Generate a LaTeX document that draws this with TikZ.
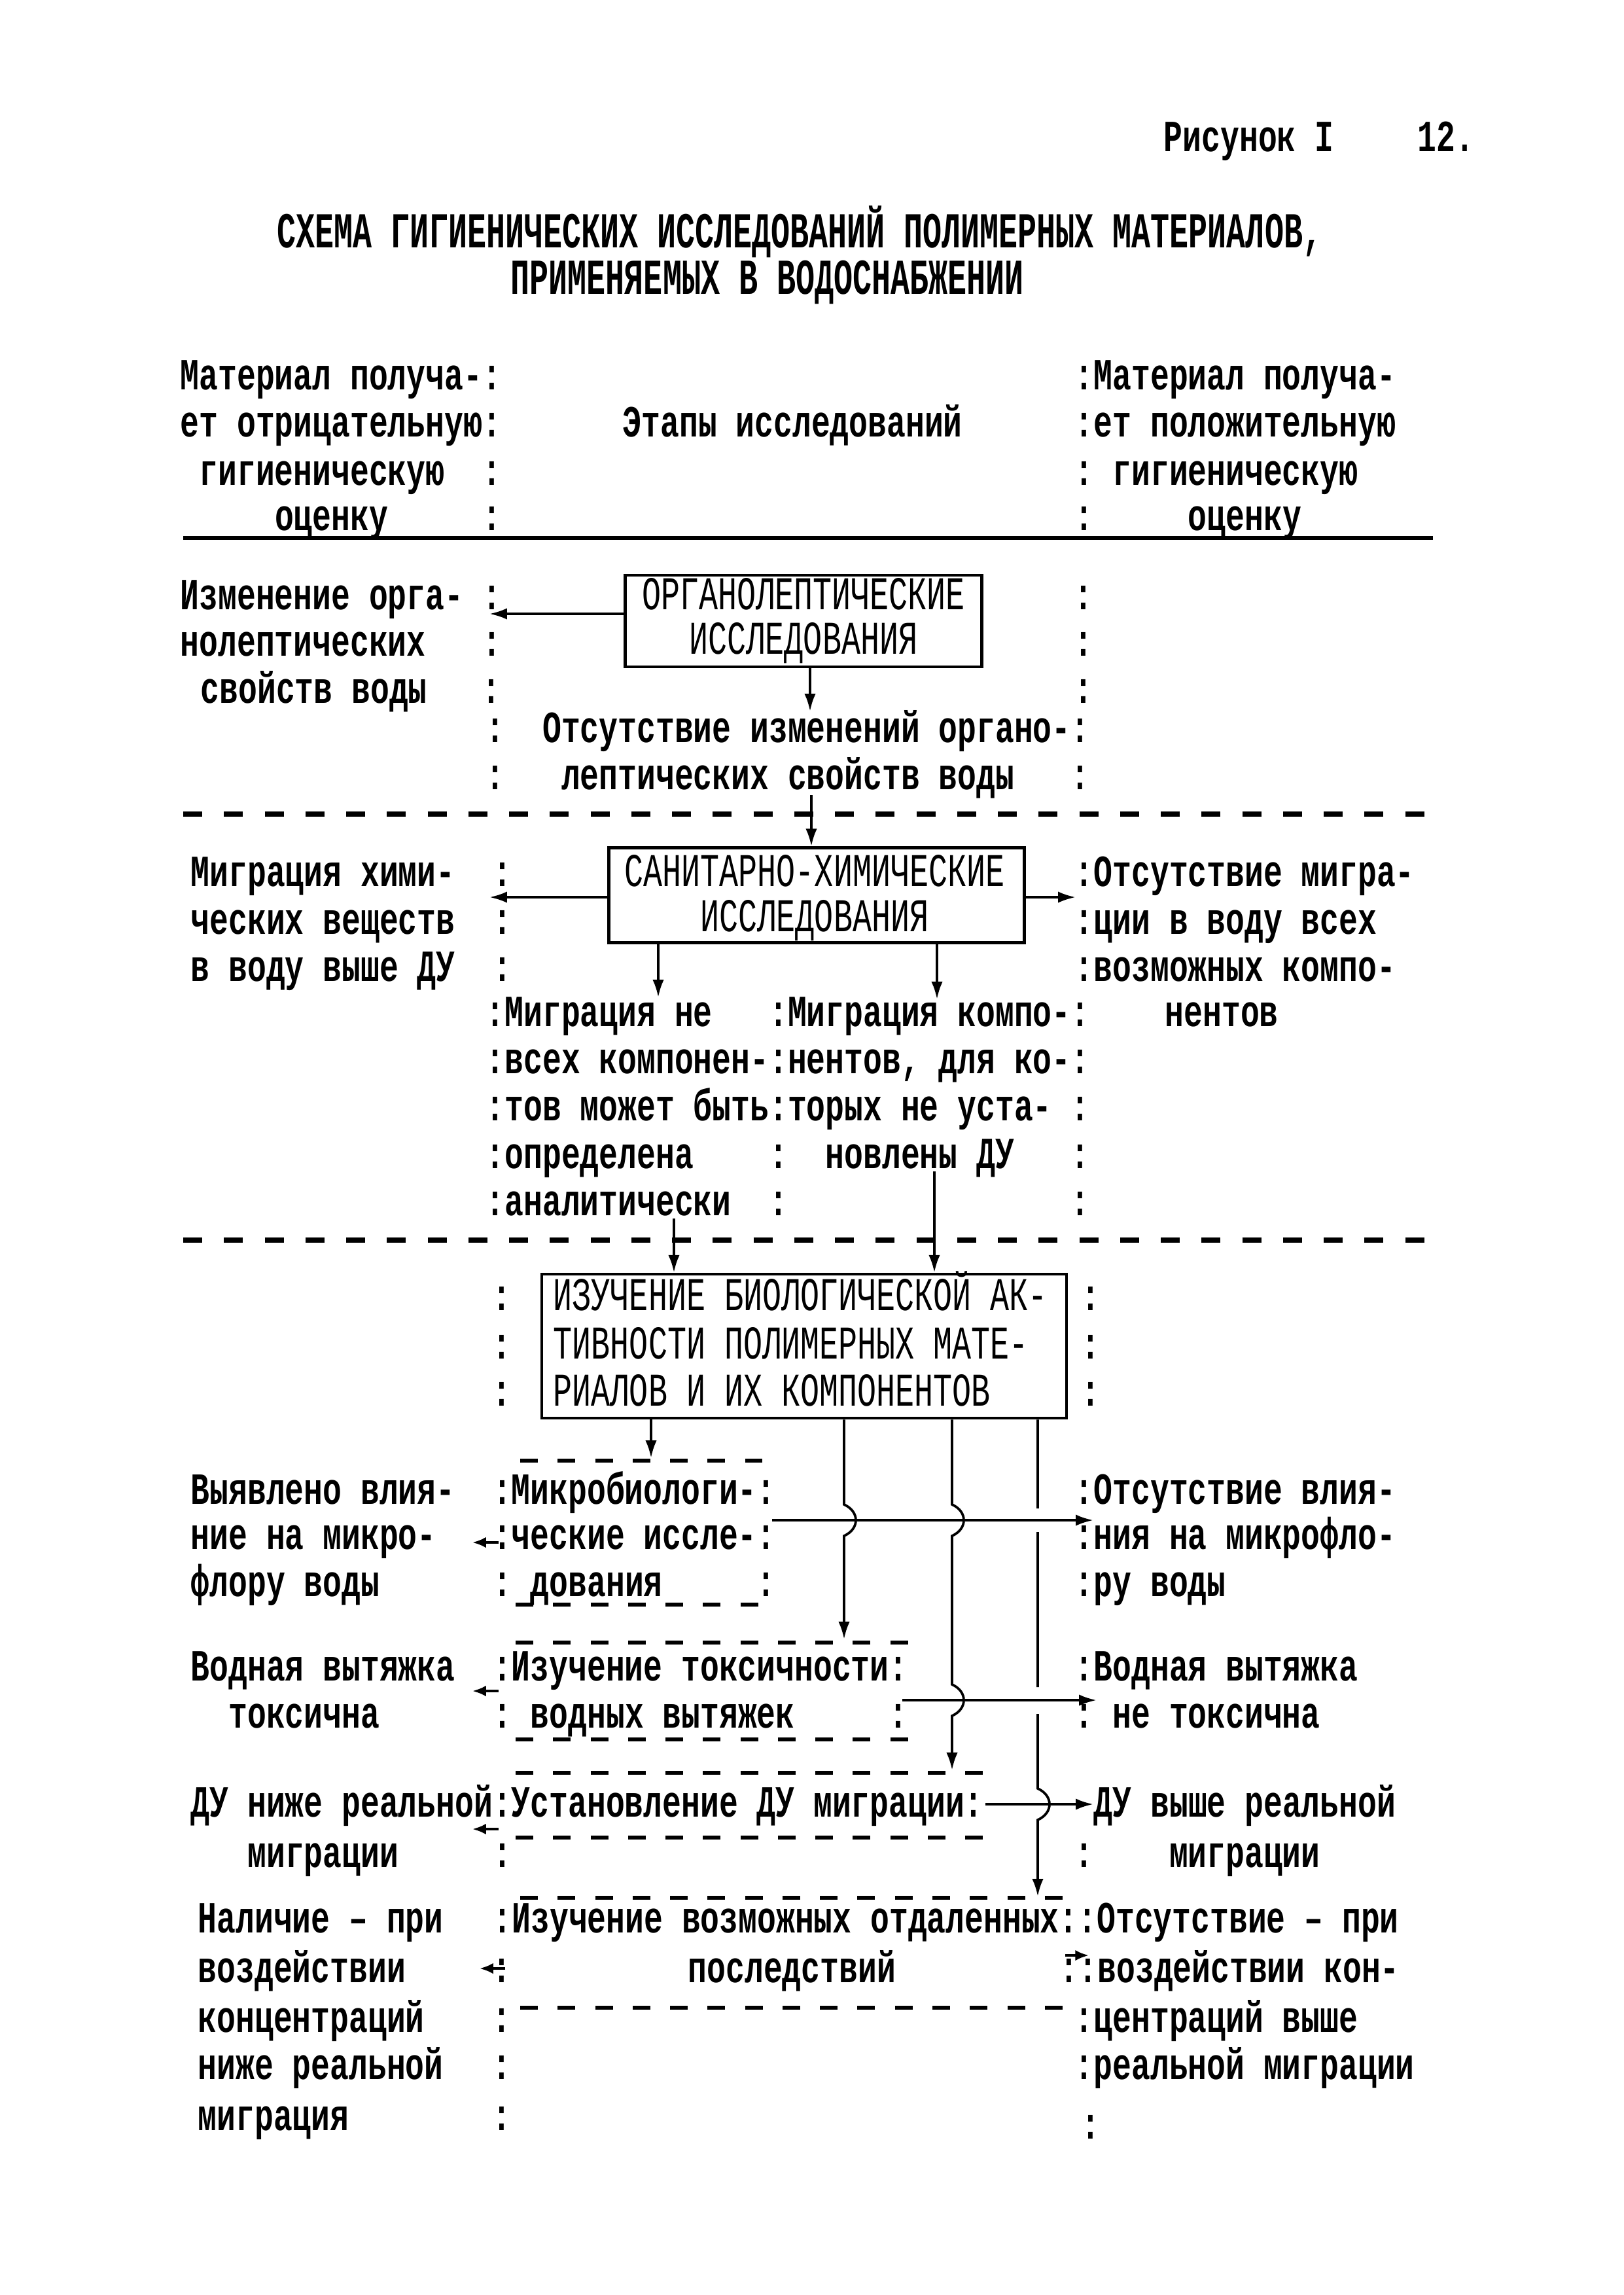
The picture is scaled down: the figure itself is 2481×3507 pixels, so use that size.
\documentclass[tikz,border=0pt]{standalone}
\usepackage{fontspec}
\newfontfamily\twfam[FakeStretch=0.706]{Liberation Mono}
\newfontfamily\ttlfam[FakeStretch=0.63]{Liberation Mono}
\newfontfamily\boxfam[FakeStretch=0.674]{Liberation Mono}
\usetikzlibrary{arrows.meta}
\newcommand\bodyfnt{\twfam\bfseries\fontsize{16.4}{17}\selectfont}
\newcommand\titlefnt{\ttlfam\bfseries\fontsize{18.5}{20}\selectfont}
\newcommand\boxfnt{\boxfam\fontsize{17.3}{18}\selectfont}
\newcommand\putT[4]{\node[txt] (#1) at (#2,#3) {#4};}
\newcommand\putC[3]{\node[col] (#1) at (#2,#3) {:};}
\begin{document}
\begin{tikzpicture}[x=0.008465cm,y=-0.008465cm,
 txt/.style={font=\bodyfnt,inner sep=0pt,anchor=base west},
 col/.style={font=\bodyfnt,inner sep=0pt,anchor=base},
 ttl/.style={font=\titlefnt,inner sep=0pt,anchor=base west},
 box/.style={draw,line width=1.1pt,inner sep=0pt},
 boxtxt/.style={font=\boxfnt,inner sep=0pt,anchor=base},
 boxtxtl/.style={font=\boxfnt,inner sep=0pt,anchor=base west},
 arr/.style={line width=0.9pt,-{Latex[length=6.5pt,width=4.2pt]}},
 sarr/.style={line width=0.9pt,-{Latex[length=5pt,width=4pt]}},
 sepdash/.style={line width=1.9pt,dash pattern=on 7pt off 8pt},
 shortdash/.style={line width=1.4pt,dash pattern=on 6.5pt off 7.3pt},
 rulebar/.style={line width=1.4pt}]
\useasboundingbox[fill=white] (0,0) rectangle (2481,3507);

% header
\putT{hd1}{1778}{231}{Рисунок I}
\putT{hd2}{2166}{231}{12.}
\node[ttl] (tl1) at (423,378) {СХЕМА ГИГИЕНИЧЕСКИХ ИССЛЕДОВАНИЙ ПОЛИМЕРНЫХ МАТЕРИАЛОВ,};
\node[ttl] (tl2) at (780,449) {ПРИМЕНЯЕМЫХ В ВОДОСНАБЖЕНИИ};

% column heads
\putT{r1a}{275}{595}{Материал получа-:}
\putT{r1b}{1642}{595}{:Материал получа-}
\putT{r2a}{275}{667}{ет отрицательную:}
\putT{r2c}{951}{667}{Этапы исследований}
\putT{r2b}{1642}{667}{:ет положительную}
\putT{r3a}{275}{741}{~гигиеническую~~:}
\putT{r3b}{1642}{741}{:~гигиеническую}
\putT{r4a}{275}{810}{~~~~~оценку~~~~~:}
\putT{r4b}{1642}{810}{:~~~~~оценку}
\draw[rulebar] (280,822) -- (2190,822);

% section 1
\node[box,minimum width=131.3pt,minimum height=33.7pt] (b1) at (1228,949) {};
\node[boxtxt] (b1l1) at (1228,931) {ОРГАНОЛЕПТИЧЕСКИЕ};
\node[boxtxt] (b1l2) at (1228,999) {ИССЛЕДОВАНИЯ};
\putT{s1a}{275}{931}{Изменение орга-~:}
\putT{s1b}{275}{1002}{нолептических~~~:}
\putT{s1c}{306}{1074}{свойств воды}
\putC{k0}{751}{1074}
\putC{k1}{1656}{931}
\putC{k2}{1656}{1002}
\putC{k3}{1656}{1074}
\putT{s1d}{742}{1134}{:~~Отсутствие изменений органо-:}
\putT{s1e}{742}{1206}{:~~~лептических свойств воды~~~:}
\coordinate (c1) at (748,938);
\draw[arr] (b1.west |- c1) -- (c1);
\coordinate (c2) at (1238,1087);
\draw[arr] (b1.south -| c2) -- (c2);
\draw[sepdash] (280,1244) -- (2190,1244);

% section 2
\node[box,minimum width=152.9pt,minimum height=34.9pt] (b2) at (1248,1368) {};
\node[boxtxt] (b2l1) at (1245,1354) {САНИТАРНО-ХИМИЧЕСКИЕ};
\node[boxtxt] (b2l2) at (1245,1423) {ИССЛЕДОВАНИЯ};
\coordinate (c3) at (1240,1215);
\draw[arr] (c3) -- (c3 |- b2.north);
\putT{s2a}{291}{1354}{Миграция хими-~~:}
\putT{s2b}{291}{1427}{ческих веществ~~:}
\putT{s2c}{291}{1499}{в воду выше ДУ~~:}
\putT{s2ar}{1642}{1354}{:Отсутствие мигра-}
\putT{s2br}{1642}{1427}{:ции в воду всех}
\putT{s2cr}{1642}{1499}{:возможных компо-}
\coordinate (c4) at (748,1371);
\coordinate (c5) at (1644,1371);
\draw[arr] (b2.west |- c4) -- (c4);
\draw[arr] (b2.east |- c5) -- (c5);
\putT{s2d}{742}{1568}{:Миграция не~~~:Миграция компо-:~~~~нентов}
\putT{s2e}{742}{1640}{:всех компонен-:нентов, для ко-:}
\putT{s2f}{742}{1712}{:тов может быть:торых не уста-~:}
\putT{s2g}{742}{1785}{:определена~~~~:~~новлены ДУ~~~:}
\putT{s2h}{742}{1857}{:аналитически~~:~~~~~~~~~~~~~~~:}
\coordinate (c6) at (1006,1524);
\coordinate (c7) at (1432,1527);
\draw[arr] (b2.south -| c6) -- (c6);
\draw[arr] (b2.south -| c7) -- (c7);
\draw[sepdash] (280,1895) -- (2190,1895);

% section 3
\node[box,minimum width=193.2pt,minimum height=53pt] (b3) at (1229,2057) {};
\node[boxtxtl] (b3l1) at (845,2002) {ИЗУЧЕНИЕ БИОЛОГИЧЕСКОЙ АК-};
\node[boxtxtl] (b3l2) at (845,2076) {ТИВНОСТИ ПОЛИМЕРНЫХ МАТЕ-};
\node[boxtxtl] (b3l3) at (845,2148) {РИАЛОВ И ИХ КОМПОНЕНТОВ};
\coordinate (c8) at (1030,1862);
\coordinate (c9) at (1428,1790);
\draw[arr] (c8) -- (c8 |- b3.north);
\draw[arr] (c9) -- (c9 |- b3.north);
\putC{k4}{767}{2002}
\putC{k5}{767}{2076}
\putC{k6}{767}{2148}
\putC{k7}{1667}{2002}
\putC{k8}{1667}{2076}
\putC{k9}{1667}{2148}

\coordinate (c10) at (995,2228);
\draw[arr] (b3.south -| c10) -- (c10);
\draw[shortdash] (795,2232) -- (1165,2232);

\putT{s3a}{291}{2298}{Выявлено влия-~~:Микробиологи-:}
\putT{s3b}{291}{2367}{ние на микро-~~~:ческие иссле-:}
\putT{s3c}{291}{2439}{флору воды~~~~~~:~дования~~~~~:}
\putT{s3ar}{1642}{2298}{:Отсутствие влия-}
\putT{s3br}{1642}{2367}{:ния на микрофло-}
\putT{s3cr}{1642}{2439}{:ру воды}
\draw[shortdash] (788,2452) -- (1165,2452);
\draw[shortdash] (788,2510) -- (1400,2510);

\putT{s3d}{291}{2568}{Водная вытяжка~~:Изучение токсичности:}
\putT{s3e}{291}{2640}{~~токсична~~~~~~:~водных вытяжек~~~~~:}
\putT{s3dr}{1642}{2568}{:Водная вытяжка}
\putT{s3er}{1642}{2640}{:~не токсична}
\draw[shortdash] (788,2658) -- (1400,2658);
\draw[shortdash] (788,2709) -- (1515,2709);

\putT{s3f}{291}{2776}{ДУ ниже реальной:Установление ДУ миграции:}
\putT{s3fr}{1671}{2776}{ДУ выше реальной}
\putT{s3g}{291}{2853}{~~~миграции~~~~~:}
\putT{s3gr}{1642}{2853}{:~~~~миграции}
\draw[shortdash] (788,2808) -- (1520,2808);
\draw[shortdash] (795,2900) -- (1630,2900);

\putT{s3h}{302}{2953}{Наличие – при}
\putT{s3hc}{753}{2953}{:Изучение возможных отдаленных::Отсутствие – при}
\putT{s3i}{302}{3029}{воздействии}
\putC{k10}{767}{3029}
\putT{s3ic}{1051}{3029}{последствий}
\putT{s3ir}{1619}{3029}{::воздействии кон-}
\draw[shortdash] (795,3068) -- (1630,3068);
\putT{s3j}{302}{3105}{концентраций}
\putC{k11}{767}{3105}
\putT{s3jr}{1642}{3105}{:центраций выше}
\putT{s3k}{302}{3177}{ниже реальной}
\putC{k12}{767}{3177}
\putT{s3kr}{1642}{3177}{:реальной миграции}
\putT{s3l}{302}{3255}{миграция}
\putC{k13}{767}{3255}
\putC{k14}{1667}{3268}

% horizontal arrows to the right
\coordinate (a1s) at (1180,2323); \coordinate (a1e) at (1671,2323);
\coordinate (a2s) at (1379,2598); \coordinate (a2e) at (1676,2598);
\coordinate (a3s) at (1506,2757); \coordinate (a3e) at (1671,2757);
\draw[arr] (a1s) -- (a1e);
\draw[arr] (a2s) -- (a2e);
\draw[arr] (a3s) -- (a3e);

% small arrows to the left / right
\coordinate (l1s) at (762,2357); \coordinate (l1e) at (722,2357);
\coordinate (l2s) at (762,2584); \coordinate (l2e) at (722,2584);
\coordinate (l3s) at (762,2795); \coordinate (l3e) at (722,2795);
\coordinate (l4s) at (772,3008); \coordinate (l4e) at (733,3008);
\coordinate (r5s) at (1628,2988); \coordinate (r5e) at (1664,2988);
\draw[sarr] (l1s) -- (l1e);
\draw[sarr] (l2s) -- (l2e);
\draw[sarr] (l3s) -- (l3e);
\draw[sarr] (l4s) -- (l4e);
\draw[sarr] (r5s) -- (r5e);

% vertical lines from the box down, with bridges
\coordinate (v1t) at (1290,2505);
\coordinate (v2t) at (1455,2705);
\coordinate (v3t) at (1586,2898);
\draw[arr] (b3.south -| v1t) -- (1290,2299) .. controls (1314,2310) and (1314,2336) .. (1290,2347) -- (v1t);
\draw[arr] (b3.south -| v2t) -- (1455,2299) .. controls (1479,2310) and (1479,2336) .. (1455,2347)
  -- (1455,2574) .. controls (1479,2585) and (1479,2611) .. (1455,2622) -- (v2t);
\draw[arr] (b3.south -| v3t) -- (1586,2305) (1586,2341) -- (1586,2578) (1586,2619) -- (1586,2733)
  .. controls (1610,2744) and (1610,2770) .. (1586,2781) -- (v3t);
\end{tikzpicture}
\end{document}
